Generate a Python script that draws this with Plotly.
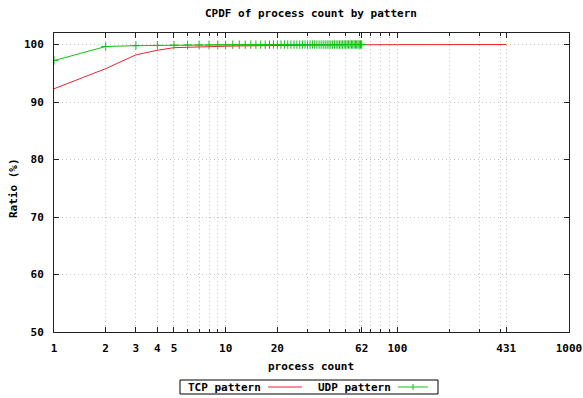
import plotly.graph_objects as go

# ---- data ----
tcp_x = [1, 2, 3, 4, 5, 6, 7, 8, 10, 12, 15, 20, 30, 50, 100, 200, 431]
tcp_y = [92.3, 95.8, 98.2, 99.0, 99.45, 99.55, 99.6, 99.65, 99.7, 99.75,
         99.8, 99.85, 99.9, 99.95, 99.97, 99.99, 100.0]

udp_x = [1, 2, 3, 4, 5, 6, 7, 8, 9, 10, 11, 12, 13, 14, 15, 16, 17, 18, 19, 20,
         21, 22, 23, 24, 25, 26, 27, 28, 29, 30, 31, 32, 33, 34, 35, 36, 37, 38,
         39, 40, 41, 42, 43, 44, 45, 46, 47, 48, 49, 50, 51, 52, 53, 54, 55, 56,
         57, 58, 59, 60, 61, 62]
udp_y = [97.2, 99.65, 99.8, 99.85, 99.9, 99.92, 99.93, 99.94, 99.95, 99.95,
         99.96, 99.96, 99.96, 99.97, 99.97, 99.97, 99.97, 99.97, 99.98, 99.98,
         99.98, 99.98, 99.98, 99.98, 99.98, 99.98, 99.98, 99.98, 99.99, 99.99,
         99.99, 99.99, 99.99, 99.99, 99.99, 99.99, 99.99, 99.99, 99.99, 99.99,
         99.99, 99.99, 99.99, 99.99, 99.99, 99.99, 99.99, 99.99, 100.0, 100.0,
         100.0, 100.0, 100.0, 100.0, 100.0, 100.0, 100.0, 100.0, 100.0, 100.0,
         100.0, 100.0]

x_tickvals = [1, 2, 3, 4, 5, 10, 20, 62, 100, 431, 1000]
x_ticktext = ["1", "2", "3", "4", "5", "10", "20", "62", "100", "431", "1000"]
x_minorvals = [6, 7, 8, 9, 30, 40, 50, 60, 70, 80, 90, 200, 300, 400]
y_tickvals = [50, 60, 70, 80, 90, 100]

title_text = "CPDF of process count by pattern"
xlabel = "process count"
ylabel = "Ratio (%)"
series_names = ["TCP pattern", "UDP pattern"]

# ---- style ----
RED = "#e8262f"
GREEN = "#10c010"
FONT = dict(family="DejaVu Sans Mono", size=11, color="#000000", weight="bold")
GRID = "#c4c4c4"
DASH = "1px,3px"

fig = go.Figure()
fig.add_trace(go.Scatter(x=tcp_x, y=tcp_y, mode="lines", name=series_names[0],
                         line=dict(color=RED, width=1), showlegend=False))
fig.add_trace(go.Scatter(x=udp_x, y=udp_y, mode="lines+markers", name=series_names[1],
                         line=dict(color=GREEN, width=1),
                         marker=dict(symbol="cross-thin", size=6,
                                     line=dict(color=GREEN, width=1)),
                         showlegend=False))

L, R, T, B = 54, 14, 33, 66
W, H = 583, 398
pw, ph = W - L - R, H - T - B

def px(xp):
    return (xp - L) / pw

def py(yp):
    return (H - B - yp) / ph

fig.update_layout(
    width=W, height=H,
    margin=dict(l=L, r=R, t=T, b=B, pad=0, autoexpand=False),
    paper_bgcolor="white", plot_bgcolor="white",
    font=FONT,
    showlegend=False,
    xaxis=dict(type="log", range=[0, 3], tickmode="array",
               tickvals=x_tickvals, ticktext=x_ticktext, automargin=False,
               ticks="inside", ticklen=5, tickcolor="#222", tickwidth=1,
               showline=True, linecolor="#222", linewidth=1, mirror="allticks",
               showgrid=True, gridcolor=GRID, griddash=DASH, gridwidth=1,
               zeroline=False, ticklabelstandoff=6,
               minor=dict(tickmode="array", tickvals=x_minorvals,
                          ticks="inside", ticklen=3, tickcolor="#222",
                          showgrid=True, gridcolor=GRID, griddash=DASH, gridwidth=1),
               tickfont=FONT),
    yaxis=dict(range=[50, 102], tickmode="array", tickvals=y_tickvals,
               automargin=False,
               ticks="inside", ticklen=5, tickcolor="#222", tickwidth=1,
               showline=True, linecolor="#222", linewidth=1, mirror="allticks",
               showgrid=True, gridcolor=GRID, griddash=DASH, gridwidth=1,
               zeroline=False, ticklabelstandoff=7, tickfont=FONT),
)

ann = []
ann.append(dict(text=title_text, x=px(311), y=py(13), xref="paper", yref="paper",
                showarrow=False, font=FONT, xanchor="center", yanchor="middle"))
ann.append(dict(text=xlabel, x=px(311), y=py(366), xref="paper", yref="paper",
                showarrow=False, font=FONT, xanchor="center", yanchor="middle"))
ann.append(dict(text=ylabel, x=px(13), y=py(188), xref="paper", yref="paper",
                showarrow=False, font=FONT, textangle=-90,
                xanchor="center", yanchor="middle"))

# manual legend (gnuplot style: text then sample)
leg_y = 387
ann.append(dict(text=series_names[0], x=px(263), y=py(leg_y), xref="paper", yref="paper",
                showarrow=False, font=FONT, xanchor="right", yanchor="middle"))
ann.append(dict(text=series_names[1], x=px(393), y=py(leg_y), xref="paper", yref="paper",
                showarrow=False, font=FONT, xanchor="right", yanchor="middle"))
shapes = [
    dict(type="rect", xref="paper", yref="paper", x0=px(180), x1=px(438),
         y0=py(380), y1=py(394), line=dict(color="#000", width=1)),
    dict(type="line", xref="paper", yref="paper", x0=px(268), x1=px(302),
         y0=py(leg_y), y1=py(leg_y), line=dict(color=RED, width=1)),
    dict(type="line", xref="paper", yref="paper", x0=px(398), x1=px(428),
         y0=py(leg_y), y1=py(leg_y), line=dict(color=GREEN, width=1)),
    dict(type="line", xref="paper", yref="paper", x0=px(413), x1=px(413),
         y0=py(leg_y - 3), y1=py(leg_y + 3), line=dict(color=GREEN, width=1)),
]
fig.update_layout(annotations=ann, shapes=shapes)

fig.write_html("out.html")
